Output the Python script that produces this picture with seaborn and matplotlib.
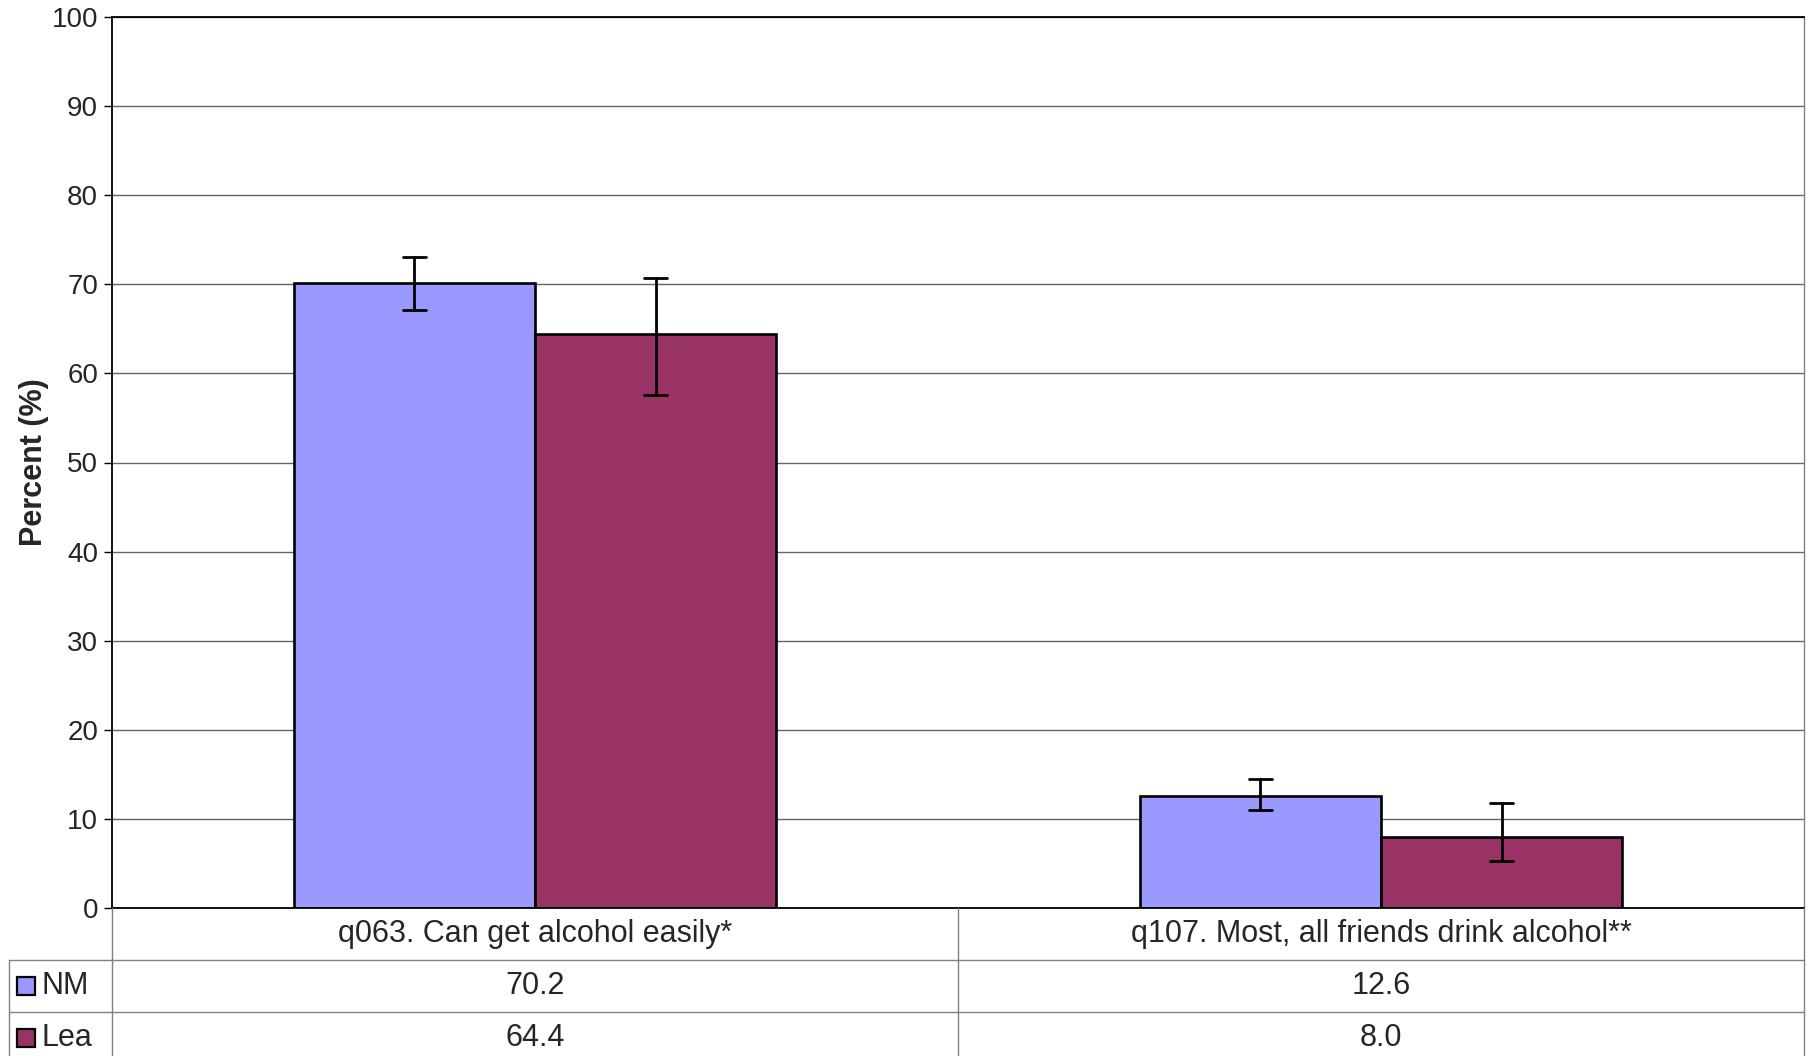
import matplotlib
matplotlib.use("Agg")
import matplotlib.pyplot as plt
import matplotlib.transforms as mtransforms
import seaborn as sns
import pandas as pd

# data
items = ["q063. Can get alcohol easily*", "q107. Most, all friends drink alcohol**"]
groups = ["NM", "Lea"]
nm_vals = [70.2, 12.6]
lea_vals = [64.4, 8.0]
nm_low = [67.1, 11.0]
nm_high = [73.1, 14.5]
lea_low = [57.6, 5.3]
lea_high = [70.7, 11.8]
colors = ["#9999FF", "#993366"]
yticks = list(range(0, 101, 10))

df = pd.DataFrame({
    "item": items * 2,
    "group": [groups[0]] * 2 + [groups[1]] * 2,
    "pct": nm_vals + lea_vals,
})

sns.set_style("white")
plt.rcParams["font.family"] = ["Liberation Sans", "DejaVu Sans"]

W, H = 1811, 1056
fig = plt.figure(figsize=(W / 100, H / 100), dpi=100)
ax = fig.add_axes([112 / W, 1 - 908 / H, (1804 - 112) / W, (908 - 17) / H])

sns.barplot(data=df, x="item", y="pct", hue="group", palette=colors, saturation=1,
            edgecolor="black", linewidth=1.9, width=0.57, gap=0,
            errorbar=None, legend=False, ax=ax)

# asymmetric error bars from the lows / highs
lows = [nm_low, lea_low]
highs = [nm_high, lea_high]
for k, cont in enumerate(ax.containers):
    for j, bar in enumerate(cont):
        xc = bar.get_x() + bar.get_width() / 2
        ax.plot([xc, xc], [lows[k][j], highs[k][j]], color="black", lw=2, zorder=5)
        for yy in (lows[k][j], highs[k][j]):
            ax.plot([xc - 0.014, xc + 0.014], [yy, yy], color="black", lw=2, zorder=5)

ax.set_ylim(0, 100)
ax.set_xlim(-0.5, 1.5)
ax.set_yticks(yticks)
ax.set_yticklabels([str(t) for t in yticks], fontsize=20)
ax.set_xticks([])
ax.set_xlabel("")
ax.set_ylabel("Percent (%)", fontsize=22, fontweight="bold", labelpad=2)
ax.tick_params(axis="y", direction="out", length=6, width=1, color="black", left=True, pad=4)
ax.yaxis.grid(True, color="#666666", lw=1)
ax.set_axisbelow(True)
for s in ["left", "bottom", "top"]:
    ax.spines[s].set_color("black")
    ax.spines[s].set_linewidth(1.3)
ax.spines["right"].set_color("#808080")
ax.spines["right"].set_linewidth(1)

# data table under the chart
tab = fig.add_axes([112 / W, -8 / H, (1804 - 112) / W, 156 / H])
tab.set_xlim(-0.5, 1.5)
tab.set_ylim(3, 0)
tab.axis("off")
blend = mtransforms.blended_transform_factory(tab.transAxes, tab.transData)
left_edge = (9 - 112) / (1804 - 112)
line_kw = dict(color="#808080", lw=1, clip_on=False)

for xv in [-0.5, 0.5, 1.5]:
    tab.plot([xv, xv], [0, 3], **line_kw)
for yv in [1, 2]:
    tab.plot([left_edge, 1], [yv, yv], transform=blend, **line_kw)
tab.plot([left_edge, left_edge], [1, 3], transform=blend, **line_kw)

for i, name in enumerate(items):
    tab.text(i, 0.5, name, ha="center", va="center", fontsize=22)
    tab.text(i, 1.5, f"{nm_vals[i]:.1f}", ha="center", va="center", fontsize=22)
    tab.text(i, 2.5, f"{lea_vals[i]:.1f}", ha="center", va="center", fontsize=22)

for r, (g, c) in enumerate(zip(groups, colors)):
    tab.plot([(26 - 112) / (1804 - 112)], [r + 1.5], marker="s", markersize=13,
             markerfacecolor=c, markeredgecolor="black", markeredgewidth=1.6,
             transform=blend, clip_on=False)
    tab.text((42 - 112) / (1804 - 112), r + 1.5, g, transform=blend,
             ha="left", va="center", fontsize=22)

fig.savefig("out.png", dpi=100)
